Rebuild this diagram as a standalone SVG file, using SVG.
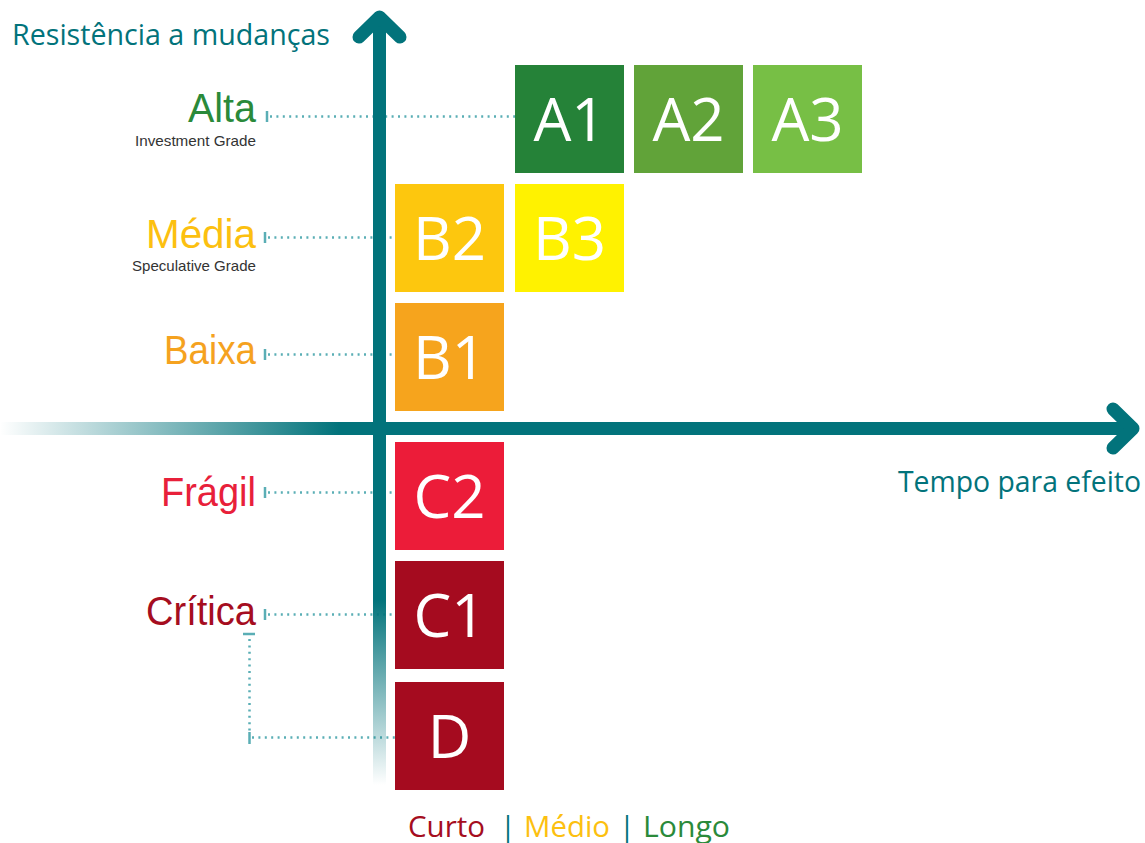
<svg xmlns="http://www.w3.org/2000/svg" width="1145" height="843" viewBox="0 0 1145 843">
<defs>
<linearGradient id="gh" x1="0" y1="0" x2="1130" y2="0" gradientUnits="userSpaceOnUse">
<stop offset="0" stop-color="#02737b" stop-opacity="0"/>
<stop offset="0.3" stop-color="#02737b" stop-opacity="1"/>
<stop offset="1" stop-color="#02737b"/>
</linearGradient>
<linearGradient id="gv" x1="0" y1="15" x2="0" y2="785" gradientUnits="userSpaceOnUse">
<stop offset="0" stop-color="#02737b"/>
<stop offset="0.76" stop-color="#02737b"/>
<stop offset="1" stop-color="#02737b" stop-opacity="0"/>
</linearGradient>
<style>
.lbl{font-family:"Open Sans","Noto Sans","Liberation Sans",sans-serif;}
.box text{font-family:"Open Sans","Noto Sans","Liberation Sans",sans-serif;font-size:60px;fill:#fff;text-anchor:middle;}
.lvl{font-family:"Liberation Sans",sans-serif;font-size:40px;text-anchor:end;}
.sub{font-family:"Liberation Sans",sans-serif;font-size:14.5px;fill:#333;text-anchor:end;}
.ax{font-size:29px;fill:#02737b;}
.bot{font-size:29px;}
.dot{stroke:#5aaeb5;stroke-width:2.5;stroke-dasharray:2 4.4;fill:none;}
.tick{stroke:#5aaeb5;stroke-width:2.5;fill:none;}
.arrow{stroke:#02737b;stroke-width:13;fill:none;stroke-linecap:round;stroke-linejoin:round;}
</style>
</defs>
<rect width="1145" height="843" fill="#fff"/>

<g id="connectors">
<line class="dot" x1="270" y1="116.5" x2="515" y2="116.5"/>
<line class="tick" x1="267" y1="111" x2="267" y2="122"/>
<line class="dot" x1="268" y1="237.5" x2="395" y2="237.5"/>
<line class="tick" x1="265" y1="232" x2="265" y2="243"/>
<line class="dot" x1="268" y1="354.5" x2="395" y2="354.5"/>
<line class="tick" x1="265" y1="349" x2="265" y2="360"/>
<line class="dot" x1="268" y1="492.5" x2="395" y2="492.5"/>
<line class="tick" x1="265" y1="487" x2="265" y2="498"/>
<line class="dot" x1="268" y1="614.5" x2="395" y2="614.5"/>
<line class="tick" x1="265" y1="609" x2="265" y2="620"/>
<line class="tick" x1="243" y1="634" x2="255" y2="634"/>
<line class="dot" x1="249.5" y1="639" x2="249.5" y2="732"/>
<line class="dot" x1="252" y1="737.5" x2="395" y2="737.5"/>
<line class="tick" x1="249.5" y1="732" x2="249.5" y2="744"/>
</g>

<g id="axes">
<rect x="0" y="422" width="1128" height="13" fill="url(#gh)"/>
<polyline class="arrow" points="1113,409 1133,428.5 1113,448"/>
<rect x="373" y="20" width="13" height="765" fill="url(#gv)"/>
<polyline class="arrow" points="359,37 379.5,17 400,37"/>
</g>

<g id="A1" class="box"><rect x="515" y="65" width="109" height="108" fill="#258238"/><text x="569.5" y="141">A1</text></g>
<g id="A2" class="box"><rect x="634" y="65" width="109" height="108" fill="#61a339"/><text x="688.5" y="141">A2</text></g>
<g id="A3" class="box"><rect x="753" y="65" width="109" height="108" fill="#77bf45"/><text x="807.5" y="141">A3</text></g>
<g id="B2" class="box"><rect x="395" y="184" width="109" height="108" fill="#fdc70e"/><text x="449.5" y="260">B2</text></g>
<g id="B3" class="box"><rect x="515" y="184" width="109" height="108" fill="#fff200"/><text x="569.5" y="260">B3</text></g>
<g id="B1" class="box"><rect x="395" y="303" width="109" height="108" fill="#f6a41d"/><text x="449.5" y="379">B1</text></g>
<g id="C2" class="box"><rect x="395" y="442" width="109" height="108" fill="#ec1c39"/><text x="449.5" y="518">C2</text></g>
<g id="C1" class="box"><rect x="395" y="561" width="109" height="108" fill="#a50b1f"/><text x="449.5" y="637">C1</text></g>
<g id="D" class="box"><rect x="395" y="682" width="109" height="108" fill="#a50b1f"/><text x="449.5" y="758">D</text></g>

<g id="labels" class="lbl">
<text class="ax" x="12" y="45" textLength="318" lengthAdjust="spacingAndGlyphs">Resistência a mudanças</text>
<text class="ax" x="898" y="492" textLength="243" lengthAdjust="spacingAndGlyphs">Tempo para efeito</text>
<text class="lvl" x="256" y="122" fill="#2a8a3a" textLength="68" lengthAdjust="spacingAndGlyphs">Alta</text>
<text class="sub" x="256" y="146" textLength="121" lengthAdjust="spacingAndGlyphs">Investment Grade</text>
<text class="lvl" x="256" y="248" fill="#fcc010" textLength="110" lengthAdjust="spacingAndGlyphs">Média</text>
<text class="sub" x="256" y="271" textLength="124" lengthAdjust="spacingAndGlyphs">Speculative Grade</text>
<text class="lvl" x="256" y="364" fill="#f5a21f" textLength="92" lengthAdjust="spacingAndGlyphs">Baixa</text>
<text class="lvl" x="256" y="506" fill="#e8203a" textLength="95" lengthAdjust="spacingAndGlyphs">Frágil</text>
<text class="lvl" x="256" y="625" fill="#a50d20" textLength="110" lengthAdjust="spacingAndGlyphs">Crítica</text>
<text class="bot" x="408" y="837" fill="#a50d20" textLength="77" lengthAdjust="spacingAndGlyphs">Curto</text>
<text class="bot" x="500" y="837" fill="#02737b">|</text>
<text class="bot" x="524" y="837" fill="#fcc010" textLength="86" lengthAdjust="spacingAndGlyphs">Médio</text>
<text class="bot" x="619" y="837" fill="#02737b">|</text>
<text class="bot" x="643" y="837" fill="#2a8a3a" textLength="87" lengthAdjust="spacingAndGlyphs">Longo</text>
</g>
</svg>
